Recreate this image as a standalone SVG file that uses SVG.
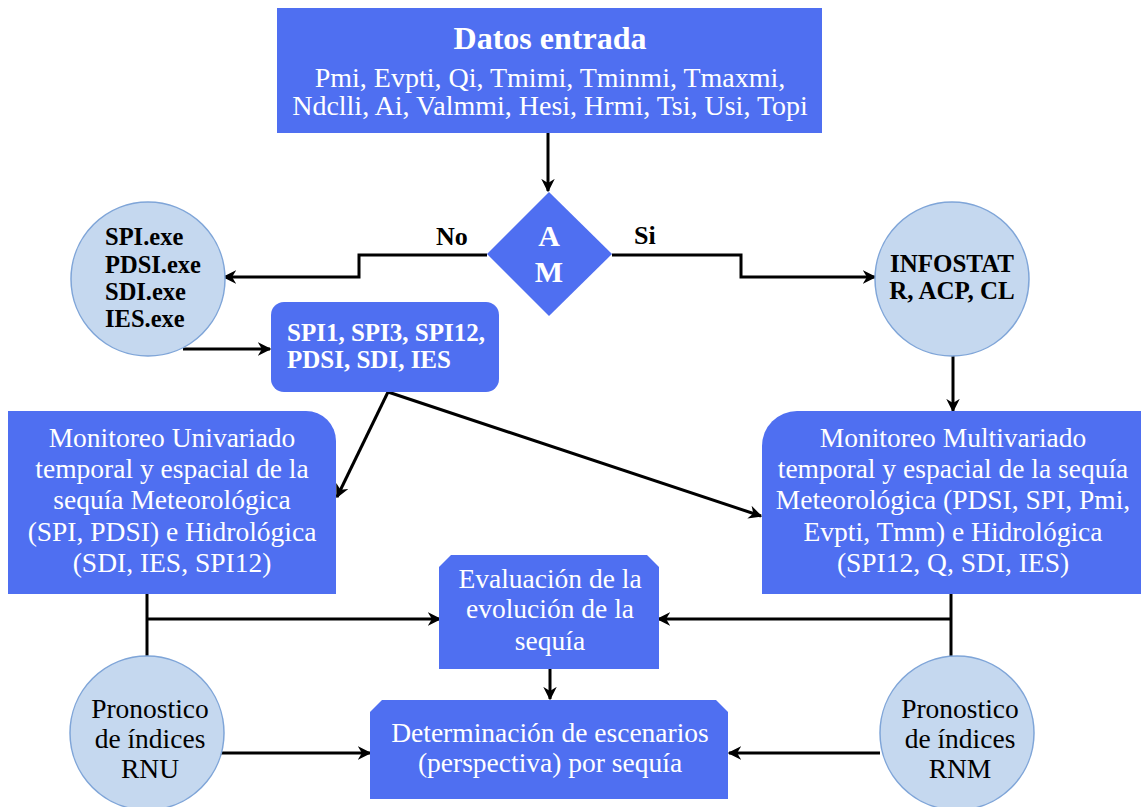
<svg xmlns="http://www.w3.org/2000/svg" width="1141" height="807" viewBox="0 0 1141 807">
<defs>
<style>
.box{fill:#4F6FF1;}
.circ{fill:#C5D8EF;stroke:#7FA5D8;stroke-width:1.5;}
.wt{font-family:"Liberation Serif",serif;fill:#fff;}
.mid{text-anchor:middle;}
.bt{font-family:"Liberation Serif",serif;fill:#000;}
.ln{fill:none;stroke:#000;stroke-width:3;}
</style>
<marker id="ah" viewBox="0 0 10 10" refX="9" refY="5" markerWidth="4.5" markerHeight="4.5" orient="auto" markerUnits="strokeWidth">
<path d="M0,0 L10,5 L0,10 L3,5 Z" fill="#000"/>
</marker>
</defs>
<rect width="1141" height="807" fill="#fff"/>
<g id="connectors">
<line class="ln" x1="548" y1="133" x2="548" y2="191" marker-end="url(#ah)"/>
<polyline class="ln" points="487,255 359,255 359,277 224,277" marker-end="url(#ah)"/>
<polyline class="ln" points="612,255 741,255 741,277 875,277" marker-end="url(#ah)"/>
<line class="ln" x1="183" y1="349" x2="270" y2="349" marker-end="url(#ah)"/>
<line class="ln" x1="953" y1="355" x2="953" y2="411" marker-end="url(#ah)"/>
<polyline class="ln" points="388,392 337,497" marker-end="url(#ah)"/>
<polyline class="ln" points="388,392 761,516" marker-end="url(#ah)"/>
<polyline class="ln" points="147,594 147,657"/>
<line class="ln" x1="147" y1="619" x2="440" y2="619" marker-end="url(#ah)"/>
<polyline class="ln" points="951,594 951,657"/>
<line class="ln" x1="951" y1="619" x2="658" y2="619" marker-end="url(#ah)"/>
<line class="ln" x1="550" y1="669" x2="550" y2="699" marker-end="url(#ah)"/>
<line class="ln" x1="220" y1="753" x2="370" y2="753" marker-end="url(#ah)"/>
<line class="ln" x1="880" y1="753" x2="729" y2="753" marker-end="url(#ah)"/>
</g>
<g id="datos">
<rect class="box" x="277" y="8" width="545" height="125"/>
<text class="wt mid" x="550" y="49" font-size="32" font-weight="bold">Datos entrada</text>
<text class="wt mid" x="550" y="87" font-size="28">Pmi, Evpti, Qi, Tmimi, Tminmi, Tmaxmi,</text>
<text class="wt mid" x="550" y="115" font-size="28">Ndclli, Ai, Valmmi, Hesi, Hrmi, Tsi, Usi, Topi</text>
</g>
<g id="am">
<polygon class="box" points="549,192 612,254 549,316 487,254"/>
<text class="wt mid" x="549" y="246" font-size="30" font-weight="bold">A</text>
<text class="wt mid" x="549" y="282" font-size="30" font-weight="bold">M</text>
</g>
<g id="lbl-no"><text class="bt" x="436" y="245" font-size="26" font-weight="bold">No</text></g>
<g id="lbl-si"><text class="bt" x="634" y="244" font-size="26" font-weight="bold">Si</text></g>
<g id="exe">
<circle class="circ" cx="148" cy="279" r="77"/>
<text class="bt" font-size="24.5" font-weight="bold"><tspan x="105" y="245">SPI.exe</tspan><tspan x="105" y="273">PDSI.exe</tspan><tspan x="105" y="300">SDI.exe</tspan><tspan x="105" y="327">IES.exe</tspan></text>
</g>
<g id="infostat">
<circle class="circ" cx="952" cy="279" r="77"/>
<text class="bt mid" font-size="25" font-weight="bold"><tspan x="952" y="272">INFOSTAT</tspan><tspan x="952" y="299">R, ACP, CL</tspan></text>
</g>
<g id="indices">
<rect class="box" x="271" y="302" width="228" height="90" rx="13"/>
<text class="wt" font-size="25" font-weight="bold"><tspan x="287" y="341">SPI1, SPI3, SPI12,</tspan><tspan x="287" y="368">PDSI, SDI, IES</tspan></text>
</g>
<g id="univariado">
<path class="box" d="M8,411 H306 A30,30 0 0 1 336,441 V594 H8 Z"/>
<text class="wt mid" font-size="27.5"><tspan x="172" y="447">Monitoreo Univariado</tspan><tspan x="172" y="478">temporal y espacial de la</tspan><tspan x="172" y="509">sequía Meteorológica</tspan><tspan x="172" y="541">(SPI, PDSI) e Hidrológica</tspan><tspan x="172" y="572">(SDI, IES, SPI12)</tspan></text>
</g>
<g id="multivariado">
<path class="box" d="M762,446 A35,35 0 0 1 797,411 H1141 V594 H762 Z"/>
<text class="wt mid" font-size="27.5"><tspan x="953" y="447">Monitoreo Multivariado</tspan><tspan x="953" y="478">temporal y espacial de la sequía</tspan><tspan x="953" y="509">Meteorológica (PDSI, SPI, Pmi,</tspan><tspan x="953" y="541">Evpti, Tmm) e Hidrológica</tspan><tspan x="953" y="572">(SPI12, Q, SDI, IES)</tspan></text>
</g>
<g id="evaluacion">
<path class="box" d="M451,555 H647 L659,567 V669 H439 V567 Z"/>
<text class="wt mid" font-size="27.5"><tspan x="550" y="588">Evaluación de la</tspan><tspan x="550" y="618">evolución de la</tspan><tspan x="550" y="650">sequía</tspan></text>
</g>
<g id="escenarios">
<path class="box" d="M382,700 H716 L728,712 V799 H370 V712 Z"/>
<text class="wt mid" font-size="27.5"><tspan x="550" y="742">Determinación de escenarios</tspan><tspan x="550" y="772">(perspectiva) por sequía</tspan></text>
</g>
<g id="rnu">
<circle class="circ" cx="147" cy="733" r="77"/>
<text class="bt mid" font-size="27.5"><tspan x="150" y="718">Pronostico</tspan><tspan x="150" y="748">de índices</tspan><tspan x="150" y="778">RNU</tspan></text>
</g>
<g id="rnm">
<circle class="circ" cx="957" cy="733" r="77"/>
<text class="bt mid" font-size="27.5"><tspan x="960" y="718">Pronostico</tspan><tspan x="960" y="748">de índices</tspan><tspan x="960" y="778">RNM</tspan></text>
</g>
</svg>
